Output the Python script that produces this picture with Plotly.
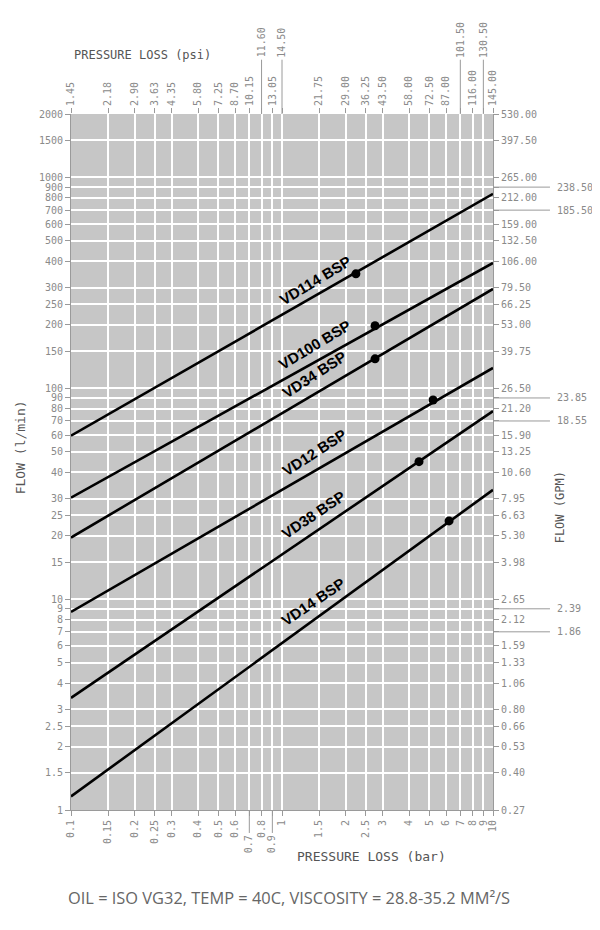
import numpy as np
import plotly.graph_objects as go

# ---------------- data ----------------
bar_ticks = [0.1, 0.15, 0.2, 0.25, 0.3, 0.4, 0.5, 0.6, 0.7, 0.8, 0.9, 1, 1.5, 2, 2.5, 3, 4, 5, 6, 7, 8, 9, 10]
bar_labels = ["0.1", "0.15", "0.2", "0.25", "0.3", "0.4", "0.5", "0.6", "0.7", "0.8", "0.9", "1",
              "1.5", "2", "2.5", "3", "4", "5", "6", "7", "8", "9", "10"]
bar_lowered = ["0.7", "0.9"]

psi_labels = ["1.45", "2.18", "2.90", "3.63", "4.35", "5.80", "7.25", "8.70", "10.15", "11.60", "13.05",
              "14.50", "21.75", "29.00", "36.25", "43.50", "58.00", "72.50", "87.00", "101.50", "116.00",
              "130.50", "145.00"]
psi_raised = ["11.60", "14.50", "101.50", "130.50"]

flow_ticks = [1, 1.5, 2, 2.5, 3, 4, 5, 6, 7, 8, 9, 10, 15, 20, 25, 30, 40, 50, 60, 70, 80, 90,
              100, 150, 200, 250, 300, 400, 500, 600, 700, 800, 900, 1000, 1500, 2000]
flow_labels = ["1", "1.5", "2", "2.5", "3", "4", "5", "6", "7", "8", "9", "10", "15", "20", "25", "30",
               "40", "50", "60", "70", "80", "90", "100", "150", "200", "250", "300", "400", "500", "600",
               "700", "800", "900", "1000", "1500", "2000"]
gpm_labels = ["0.27", "0.40", "0.53", "0.66", "0.80", "1.06", "1.33", "1.59", "1.86", "2.12", "2.39",
              "2.65", "3.98", "5.30", "6.63", "7.95", "10.60", "13.25", "15.90", "18.55", "21.20", "23.85",
              "26.50", "39.75", "53.00", "66.25", "79.50", "106.00", "132.50", "159.00", "185.50", "212.00",
              "238.50", "265.00", "397.50", "530.00"]
gpm_shifted = ["1.86", "2.39", "18.55", "23.85", "185.50", "238.50"]

series = ["VD114 BSP", "VD100 BSP", "VD34 BSP", "VD12 BSP", "VD38 BSP", "VD14 BSP"]
p_start = [0.1, 0.1, 0.1, 0.1, 0.1, 0.1]
p_end = [10, 10, 10, 10, 10, 10]
q_start = [59.6, 30.3, 19.6, 8.7, 3.4, 1.16]
q_end = [836, 393, 296, 125, 78, 33]
dot_p = [2.24, 2.76, 2.76, 5.2, 4.46, 6.19]
dot_q = [349, 198, 138, 88, 44.9, 23.5]
label_p = [1.43, 1.43, 1.42, 1.42, 1.41, 1.41]
label_q = [326, 162, 116, 49.5, 25.2, 9.7]
label_angle = [-31, -31, -33, -33, -34, -34]

caption = "OIL = ISO VG32, TEMP = 40C, VISCOSITY = 28.8-35.2 MM²/S"

# ---------------- styling ----------------
TICK_FONT = dict(family="DejaVu Sans Mono", size=10, color="#8a8a8a")
TITLE_COLOR = "#555555"
TITLE_FAMILY = "DejaVu Sans Mono"
GRAY = "#9a9a9a"

fig = go.Figure()

for i, name in enumerate(series):
    fig.add_trace(go.Scatter(x=[p_start[i], p_end[i]], y=[q_start[i], q_end[i]], mode="lines",
                             line=dict(color="black", width=2.6), showlegend=False, hoverinfo="skip"))
fig.add_trace(go.Scatter(x=dot_p, y=dot_q, mode="markers", marker=dict(color="black", size=9),
                         showlegend=False, hoverinfo="skip"))
# invisible traces to activate secondary axes
fig.add_trace(go.Scatter(x=[0.1], y=[1], xaxis="x2", yaxis="y", mode="markers", marker=dict(opacity=0),
                         showlegend=False, hoverinfo="skip"))
fig.add_trace(go.Scatter(x=[0.1], y=[1], xaxis="x", yaxis="y2", mode="markers", marker=dict(opacity=0),
                         showlegend=False, hoverinfo="skip"))

xr = [np.log10(0.1), np.log10(10)]
yr = [np.log10(1), np.log10(2000)]

bottom_text = [("" if l in bar_lowered else l) for l in bar_labels]
top_text = [("" if l in psi_raised else l) for l in psi_labels]
right_text = [("" if l in gpm_shifted else l) for l in gpm_labels]

# page body adds an 8px offset, so the figure is 8px smaller on each side
fig.update_layout(
    width=592, height=922,
    margin=dict(l=63, r=107, t=106, b=120, autoexpand=False),
    paper_bgcolor="white", plot_bgcolor="#c6c6c6",
    xaxis=dict(type="log", range=xr, tickmode="array", tickvals=bar_ticks, ticktext=bottom_text,
               tickangle=-90, tickfont=TICK_FONT, ticks="outside", ticklen=5, tickcolor=GRAY,
               showgrid=True, gridcolor="white", gridwidth=2, zeroline=False, automargin=False,
               showline=True, linecolor=GRAY, linewidth=1),
    xaxis2=dict(type="log", range=xr, overlaying="x", side="top", tickmode="array", tickvals=bar_ticks,
                ticktext=top_text, tickangle=-90, tickfont=TICK_FONT, ticks="outside", ticklen=5,
                tickcolor=GRAY, showgrid=False, zeroline=False, showline=False, automargin=False),
    yaxis=dict(type="log", range=yr, tickmode="array", tickvals=flow_ticks, ticktext=flow_labels,
               tickfont=TICK_FONT, ticks="outside", ticklen=5, tickcolor=GRAY, automargin=False,
               showgrid=True, gridcolor="white", gridwidth=2, zeroline=False,
               showline=True, linecolor=GRAY, linewidth=1),
    yaxis2=dict(type="log", range=yr, overlaying="y", side="right", tickmode="array", tickvals=flow_ticks,
                ticktext=right_text, tickfont=TICK_FONT, ticks="outside", ticklen=5, tickcolor=GRAY,
                showgrid=False, zeroline=False, showline=True, linecolor=GRAY, linewidth=1,
                automargin=False),
    showlegend=False,
)

shapes = []
annotations = []

# raised psi labels on top
for v, l in zip(bar_ticks, psi_labels):
    if l in psi_raised:
        shapes.append(dict(type="line", xref="x", yref="paper", x0=v, x1=v, y0=1.0, y1=1.078,
                           line=dict(color=GRAY, width=1)))
        annotations.append(dict(x=np.log10(v), xref="x", y=1.078, yref="paper", text=l, showarrow=False,
                                textangle=-90, xanchor="center", yanchor="bottom", font=TICK_FONT))
# lowered bar labels at bottom
for v, l in zip(bar_ticks, bar_labels):
    if l in bar_lowered:
        shapes.append(dict(type="line", xref="x", yref="paper", x0=v, x1=v, y0=0.0, y1=-0.033,
                           line=dict(color=GRAY, width=1)))
        annotations.append(dict(x=np.log10(v), xref="x", y=-0.033, yref="paper", text=l, showarrow=False,
                                textangle=-90, xanchor="center", yanchor="top", font=TICK_FONT))
# shifted GPM labels on right
for v, l in zip(flow_ticks, gpm_labels):
    if l in gpm_shifted:
        shapes.append(dict(type="line", xref="paper", yref="y", x0=1.0, x1=1.135, y0=v, y1=v,
                           line=dict(color=GRAY, width=1)))
        annotations.append(dict(x=1.147, xref="paper", y=np.log10(v), yref="y", text=l, showarrow=False,
                                xanchor="left", yanchor="middle", font=TICK_FONT))

# series labels
for i, name in enumerate(series):
    annotations.append(dict(x=np.log10(label_p[i]), y=np.log10(label_q[i]), xref="x", yref="y",
                            text="<b>" + name + "</b>", showarrow=False, textangle=label_angle[i],
                            font=dict(family="Liberation Sans Narrow, Arial Narrow, Liberation Sans",
                                      size=15, color="black")))

# axis titles
annotations += [
    dict(x=0.003, y=1.085, xref="paper", yref="paper", text="PRESSURE LOSS (psi)", showarrow=False,
         xanchor="left", yanchor="middle", font=dict(family=TITLE_FAMILY, size=12, color=TITLE_COLOR)),
    dict(x=0.711, y=-0.067, xref="paper", yref="paper", text="PRESSURE LOSS (bar)", showarrow=False,
         xanchor="center", yanchor="middle", font=dict(family=TITLE_FAMILY, size=13, color=TITLE_COLOR)),
    dict(x=-0.121, y=0.521, xref="paper", yref="paper", text="FLOW (l/min)", showarrow=False,
         textangle=-90, xanchor="center", yanchor="middle",
         font=dict(family=TITLE_FAMILY, size=13, color=TITLE_COLOR)),
    dict(x=1.159, y=0.435, xref="paper", yref="paper", text="FLOW (GPM)", showarrow=False,
         textangle=-90, xanchor="center", yanchor="middle",
         font=dict(family=TITLE_FAMILY, size=12, color=TITLE_COLOR)),
    dict(x=0.517, y=-0.125, xref="paper", yref="paper", text=caption, showarrow=False,
         xanchor="center", yanchor="middle", font=dict(family="Open Sans", size=16.4, color="#666666")),
]

fig.update_layout(shapes=shapes, annotations=annotations)
fig.write_html("out.html")
